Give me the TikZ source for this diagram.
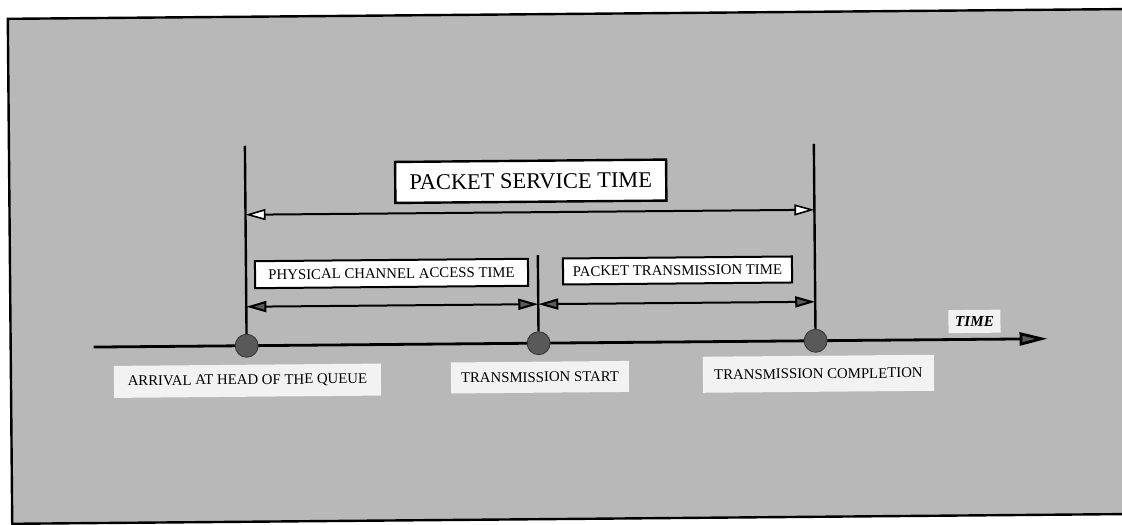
\documentclass[tikz,border=0pt]{standalone}
\usepackage{fontspec}
\setmainfont{Liberation Serif}
\usetikzlibrary{arrows.meta}

\definecolor{panel}{gray}{0.72}
\definecolor{tag}{gray}{0.95}
\definecolor{dotfill}{gray}{0.35}

\tikzset{
  mark line/.style={line width=1.2pt, black},
  span line/.style={line width=1pt, black},
  svc arrow/.style={span line, {Triangle[fill=white, length=10pt, width=5.5pt, line width=0.8pt]}-{Triangle[fill=white, length=10pt, width=5.5pt, line width=0.8pt]}},
  part arrow/.style={span line, {Triangle[fill=dotfill, length=10pt, width=5.5pt]}-{Triangle[fill=dotfill, length=10pt, width=5.5pt]}},
  axis line/.style={line width=1.4pt, black, -{Triangle[fill=dotfill, length=14pt, width=6.5pt]}},
  event/.style={circle, fill=dotfill, draw=black!80, line width=0.4pt, minimum size=11.5pt, inner sep=0pt},
  titlebox/.style={draw=black, line width=1.2pt, fill=white, inner sep=0pt,
    font=\fontsize{11.2}{13}\selectfont},
  spanbox/.style={draw=black, line width=1pt, fill=white, inner sep=0pt,
    font=\fontsize{7.4}{9}\selectfont},
  eventtag/.style={fill=tag, inner sep=0pt, font=\fontsize{7.4}{9}\selectfont},
}

\begin{document}
\begin{tikzpicture}[x=0.5pt, y=-0.5pt]
\useasboundingbox (0,0) rectangle (1122,524);

\begin{scope}[rotate around={0.5:(561,270)}, transform shape]
  % shaded panel
  \draw[fill=panel, line width=1.2pt] (10,14) rectangle (1160,519);

  % time axis
  \coordinate (ax0) at (93,343);
  \coordinate (ax1) at (1047,343);
  \draw[axis line] (ax0) -- (ax1);
  \node[eventtag, minimum width=26pt, minimum height=11.5pt,
        font=\fontsize{7.6}{9}\selectfont\bfseries\itshape] (timelbl) at (974,325) {TIME};

  % event markers
  \coordinate (ta) at (246,143);
  \coordinate (ts) at (538,255);
  \coordinate (tc) at (815,146);
  \node[event] (a) at (246,343) {};
  \node[event] (s) at (538,343) {};
  \node[event] (c) at (815,343) {};
  \draw[mark line] (ta) -- (a);
  \draw[mark line] (ts) -- (s);
  \draw[mark line] (tc) -- (c);

  % service time span
  \coordinate (svcL) at (246,212);
  \coordinate (svcR) at (815,212);
  \draw[svc arrow] (svcL) -- (svcR);
  \node[titlebox, minimum width=135.5pt, minimum height=20.5pt] (svc) at (531.5,181) {PACKET SERVICE TIME};

  % access and transmission spans
  \coordinate (accL) at (246,304);
  \coordinate (accR) at (538,304);
  \coordinate (txL) at (538,304);
  \coordinate (txR) at (815,304);
  \draw[part arrow] (accL) -- (accR);
  \draw[part arrow] (txL) -- (txR);
  \node[spanbox, minimum width=136.5pt, minimum height=13.5pt] (acc) at (391.5,272) {PHYSICAL CHANNEL ACCESS TIME};
  \node[spanbox, minimum width=114.5pt, minimum height=13pt] (tx) at (677.5,271.5) {PACKET TRANSMISSION TIME};

  % event labels
  \node[eventtag, minimum width=133.5pt, minimum height=16pt] (la) at (246.5,378) {ARRIVAL AT HEAD OF THE QUEUE};
  \node[eventtag, minimum width=89pt, minimum height=15.5pt] (ls) at (539,377) {TRANSMISSION START};
  \node[eventtag, minimum width=115.5pt, minimum height=18pt] (lc) at (817.5,376) {TRANSMISSION COMPLETION};
\end{scope}
\end{tikzpicture}
\end{document}
